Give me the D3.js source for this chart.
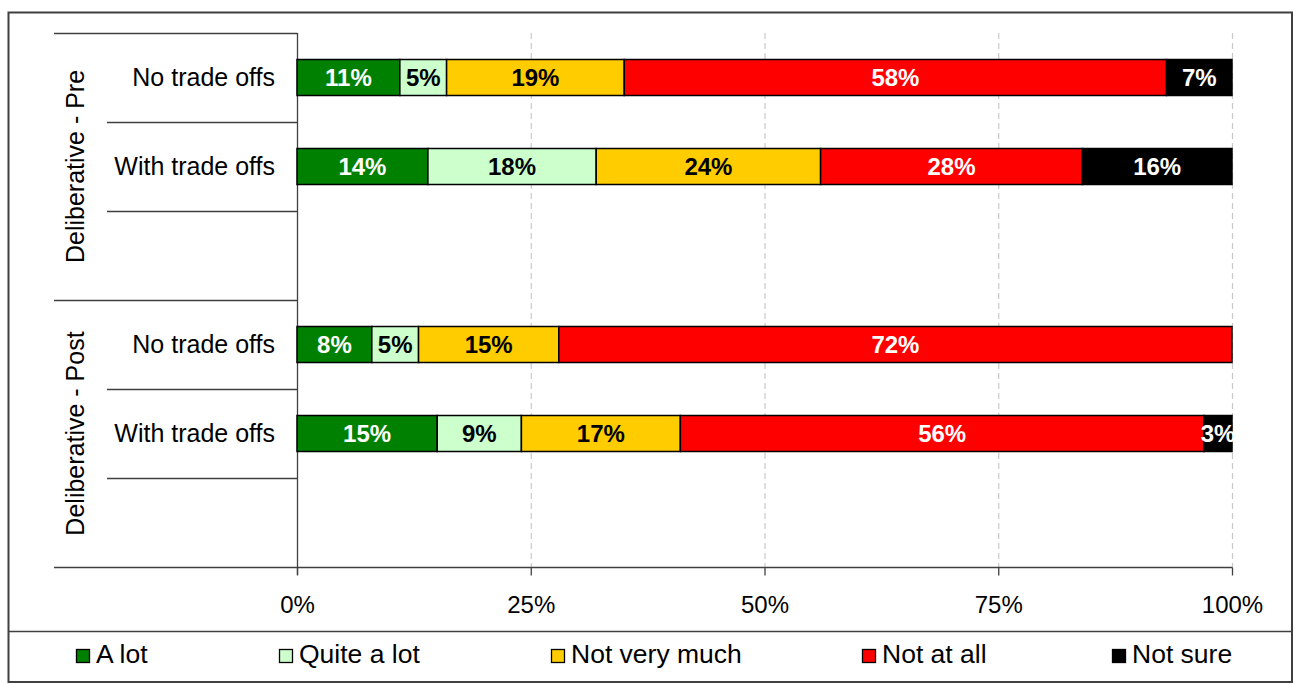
<!DOCTYPE html>
<html>
<head>
<meta charset="utf-8">
<script src="https://cdn.jsdelivr.net/npm/d3@7/dist/d3.min.js"></script>
<style>
  html, body { margin: 0; padding: 0; background: #fff; }
  svg { display: block; font-family: "Liberation Sans", Arial, sans-serif; }
</style>
</head>
<body>
<svg id="chart" width="1295" height="684"></svg>
<script>
// Response categories (stack order, left to right)
const responses = ["A lot", "Quite a lot", "Not very much", "Not at all", "Not sure"];
const responseColors = ["#008000", "#ccffcc", "#ffcc00", "#ff0000", "#000000"];
const labelColors = ["#ffffff", "#000000", "#000000", "#ffffff", "#ffffff"];

// Survey stages and question variants (third slot in each stage is left blank)
const groups = ["Deliberative - Pre", "Deliberative - Post"];
const variants = ["No trade offs", "With trade offs", ""];

// Percent of respondents, one array per response, ordered:
// Pre/No, Pre/With, Post/No, Post/With
const rowKeys = ["Pre|No", "Pre|With", "Post|No", "Post|With"];
const aLot        = [11, 14, 8, 15];
const quiteALot   = [5, 18, 5, 9];
const notVeryMuch = [19, 24, 15, 17];
const notAtAll    = [58, 28, 72, 56];
const notSure     = [7, 16, 0, 3];

const tickValues = [0, 25, 50, 75, 100];

const seriesValues = [aLot, quiteALot, notVeryMuch, notAtAll, notSure];

// Slot for each data row in the category band
const rowSlot = { "Pre|No": 0, "Pre|With": 1, "Post|No": 3, "Post|With": 4 };

const svg = d3.select("#chart");

// Layout
const plot = { left: 297, right: 1232, top: 33, bottom: 567 };
const labelLeft = 54, innerLeft = 107;

const x = d3.scaleLinear().domain([0, 100]).range([plot.left, plot.right]);
const slots = d3.range(groups.length * variants.length);
const y = d3.scaleBand().domain(slots).range([plot.top, plot.bottom]).padding(0);
const barH = 36;

// Outer frame and legend separator
svg.append("rect")
  .attr("x", 8.5).attr("y", 12.5).attr("width", 1283.5).attr("height", 669.5)
  .attr("fill", "none").attr("stroke", "#404040").attr("stroke-width", 2);
svg.append("line")
  .attr("x1", 8.5).attr("x2", 1292).attr("y1", 631.5).attr("y2", 631.5)
  .attr("stroke", "#404040").attr("stroke-width", 1.5);

// Dashed vertical gridlines
svg.append("g").selectAll("line")
  .data(tickValues.filter(d => d > 0))
  .join("line")
  .attr("x1", d => x(d) + 0.5).attr("x2", d => x(d) + 0.5)
  .attr("y1", plot.top).attr("y2", plot.bottom)
  .attr("stroke", "#c8c8c8").attr("stroke-width", 1.2)
  .attr("stroke-dasharray", "6,4");

// Bottom value axis
const xAxis = d3.axisBottom(x).tickValues(tickValues).tickFormat(d => d + "%")
  .tickSize(8).tickPadding(20);
const xg = svg.append("g").attr("transform", `translate(0,${plot.bottom + 0.5})`).call(xAxis);
xg.select(".domain").remove();
xg.selectAll(".tick line").attr("stroke", "#404040").attr("stroke-width", 1.3);
xg.selectAll(".tick text").attr("fill", "#000").attr("font-size", 24)
  .attr("font-family", "Liberation Sans, Arial, sans-serif");
svg.append("line")
  .attr("x1", labelLeft).attr("x2", plot.right + 0.5)
  .attr("y1", plot.bottom + 0.5).attr("y2", plot.bottom + 0.5)
  .attr("stroke", "#404040").attr("stroke-width", 1.3);

// Category axis line
svg.append("line")
  .attr("x1", plot.left + 0.5).attr("x2", plot.left + 0.5)
  .attr("y1", plot.top).attr("y2", plot.bottom + 8)
  .attr("stroke", "#404040").attr("stroke-width", 1.3);

// Category separators: full width at stage boundaries, inset between variants
const bounds = d3.range(slots.length + 1).map(i => ({
  y: plot.top + i * y.bandwidth(),
  stage: i % variants.length === 0
}));
svg.append("g").selectAll("line")
  .data(bounds.filter(b => b.y < plot.bottom - 1))
  .join("line")
  .attr("x1", b => b.stage ? labelLeft : innerLeft)
  .attr("x2", plot.left + 0.5)
  .attr("y1", b => Math.round(b.y) + 0.5).attr("y2", b => Math.round(b.y) + 0.5)
  .attr("stroke", "#404040").attr("stroke-width", 1.3);

// Variant labels
const variantLabels = [];
groups.forEach((g, gi) => variants.forEach((v, vi) => {
  if (v) variantLabels.push({ slot: gi * variants.length + vi, text: v });
}));
svg.append("g").selectAll("text")
  .data(variantLabels)
  .join("text")
  .attr("x", 275)
  .attr("y", d => y(d.slot) + y.bandwidth() / 2)
  .attr("dy", "0.35em")
  .attr("text-anchor", "end")
  .attr("font-size", 25)
  .attr("fill", "#000")
  .text(d => d.text);

// Stage labels, rotated
svg.append("g").selectAll("text")
  .data(groups)
  .join("text")
  .attr("transform", (g, gi) => {
    const cy = y(gi * variants.length) + y.bandwidth() * variants.length / 2;
    return `translate(75,${cy}) rotate(-90)`;
  })
  .attr("dy", "0.35em")
  .attr("text-anchor", "middle")
  .attr("font-size", 25)
  .attr("fill", "#000")
  .text(d => d);

// Stack the series
const table = rowKeys.map((k, i) => {
  const row = { key: k };
  responses.forEach((r, j) => row[r] = seriesValues[j][i]);
  return row;
});
const stacked = d3.stack().keys(responses)(table);

svg.append("defs").append("clipPath").attr("id", "plotClip")
  .append("rect")
  .attr("x", plot.left).attr("y", plot.top)
  .attr("width", plot.right - plot.left + 1).attr("height", plot.bottom - plot.top);

const barsG = svg.append("g");
const labelsG = svg.append("g").attr("clip-path", "url(#plotClip)");

stacked.forEach((layer, li) => {
  const segs = layer.filter(d => d[1] - d[0] > 0);
  barsG.selectAll(null)
    .data(segs)
    .join("rect")
    .attr("x", d => x(d[0]))
    .attr("width", d => x(d[1]) - x(d[0]))
    .attr("y", d => y(rowSlot[d.data.key]) + (y.bandwidth() - barH) / 2)
    .attr("height", barH)
    .attr("fill", responseColors[li])
    .attr("stroke", "#000")
    .attr("stroke-width", 1.5);

  labelsG.selectAll(null)
    .data(segs)
    .join("text")
    .attr("x", d => (x(d[0]) + x(d[1])) / 2)
    .attr("y", d => y(rowSlot[d.data.key]) + y.bandwidth() / 2)
    .attr("dy", "0.35em")
    .attr("text-anchor", "middle")
    .attr("font-size", 24)
    .attr("font-weight", "bold")
    .attr("fill", labelColors[li])
    .text(d => (d[1] - d[0]) + "%");
});

// Legend
const legendX = [76, 279, 551, 862, 1112];
const legend = svg.append("g").selectAll("g")
  .data(responses)
  .join("g")
  .attr("transform", (d, i) => `translate(${legendX[i]},649)`);
legend.append("rect")
  .attr("x", 0.5).attr("y", 0.5).attr("width", 13).attr("height", 13)
  .attr("fill", (d, i) => responseColors[i])
  .attr("stroke", "#000").attr("stroke-width", 1.3);
legend.append("text")
  .attr("x", 20).attr("y", 14)
  .attr("font-size", 26.5)
  .attr("fill", "#000")
  .text(d => d);
</script>
</body>
</html>
